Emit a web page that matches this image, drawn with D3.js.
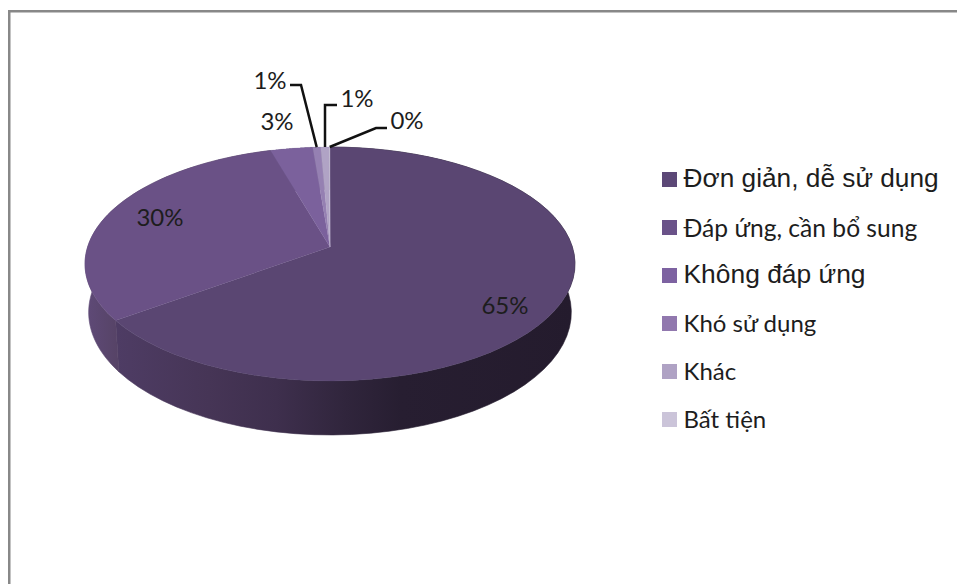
<!DOCTYPE html>
<html><head><meta charset="utf-8">
<style>html,body{margin:0;padding:0;background:#fff}svg{display:block}</style>
<script src="https://cdn.jsdelivr.net/npm/d3@7"></script></head>
<body><svg id="c" width="957" height="584"></svg>
<script>
const categories = ["Đơn giản, dễ sử dụng","Đáp ứng, cần bổ sung","Không đáp ứng","Khó sử dụng","Khác","Bất tiện"];
const values = [65.0,30.49,3.21,0.6,0.65,0.05];
const sliceColors = ["#5a4672","#6a5186","#7b619c","#9580b2","#b0a3c5","#cbc4d9"];
const legendColors = ["#5c4877","#6a5289","#7d62a1","#9178ae","#afa2c4","#cbc4d9"];

const svg = d3.select("#c");
const W = 957, H = 584;
const lato = "Lato, 'Open Sans', sans-serif", arial = "'Liberation Sans', Arial, sans-serif";

// frame
svg.append("path").attr("d", `M9.25,${H}V11.25H${W}`).attr("fill","none").attr("stroke","#888").attr("stroke-width",2.5);

// perspective disc: top rim and bottom rim are separate projections of the same circle
const cx = 330, k = 0.145;
const topRim = {y0:247, A:242.4, B:114.5}, botRim = {y0:294.6, A:238.8, B:120};
const project = (t, rim = topRim) => {
  const w = 1 + k * Math.cos(t);
  return [cx + rim.A * Math.sin(t) / w, rim.y0 - rim.B * Math.cos(t) / w];
};
const pie = d3.pie().sort(null).value(d => d)(values);
const arcPts = (a0, a1, rim) => d3.range(0, 61).map(i => project(a0 + (a1 - a0) * i / 60, rim));
const line = d3.line();

// shaded wall
const defs = svg.append("defs");
const g1 = defs.append("linearGradient").attr("id","wall0").attr("gradientUnits","userSpaceOnUse").attr("x1",117).attr("x2",575).attr("y1",0).attr("y2",0);
[[0,"#4e3c64"],[.2,"#463556"],[.35,"#3e2f4d"],[.5,"#30253c"],[.62,"#271e31"],[1,"#241b2d"]].forEach(s=>g1.append("stop").attr("offset",s[0]).attr("stop-color",s[1]));
const g2 = defs.append("linearGradient").attr("id","wall1").attr("gradientUnits","userSpaceOnUse").attr("x1",85).attr("x2",118).attr("y1",0).attr("y2",0);
[[0,"#5f4a78"],[1,"#564366"]].forEach(s=>g2.append("stop").attr("offset",s[0]).attr("stop-color",s[1]));

svg.append("g").selectAll("path").data(pie).join("path")
  .attr("d", d => line(arcPts(d.startAngle,d.endAngle,topRim).concat(arcPts(d.startAngle,d.endAngle,botRim).reverse()))+"Z")
  .attr("fill",(d,i)=> i<2 ? `url(#wall${i})` : d3.color(sliceColors[i]).darker(1))
  .attr("stroke",(d,i)=> i<2 ? `url(#wall${i})` : "none").attr("stroke-width",.6);

svg.append("g").selectAll("path").data(pie).join("path")
  .attr("d", d => line([[cx,topRim.y0]].concat(arcPts(d.startAngle,d.endAngle,topRim)))+"Z")
  .attr("fill",(d,i)=>sliceColors[i]).attr("stroke",(d,i)=>sliceColors[i]).attr("stroke-width",.3);

// data labels
const labelPos = [[505,306],[160,218],[277,122],[270,81],[357,99],[407,121]];
const leaderElbow = [null,null,null,[[290,85],[301,85]],[[337,105],[325,105]],[[387,128],[376,128]]];
const pct = v => d3.format(".0f")(v) + "%";
svg.append("g").selectAll("text").data(pie).join("text")
  .attr("x",(d,i)=>labelPos[i][0]).attr("y",(d,i)=>labelPos[i][1]).attr("dy","0.35em")
  .attr("text-anchor","middle").attr("font-family",lato).attr("font-size",24).attr("fill","#1d1d1d")
  .text(d=>pct(d.data));
svg.append("g").selectAll("path").data(pie.filter((d,i)=>leaderElbow[i])).join("path")
  .attr("d",(d)=>{const i=d.index; return line(leaderElbow[i].concat([project((d.startAngle+d.endAngle)/2)]));})
  .attr("fill","none").attr("stroke","#111").attr("stroke-width",2.5);

// legend
const legendFonts = [arial,lato,arial,lato,lato,lato];
const legendSizes = [26.25,24.6,26.4,24,24,24];
const legendShift = [-2,0,-2,0,0,0];
const legendY = d3.scalePoint().domain(categories).range([180,420]);
const lg = svg.append("g").selectAll("g").data(categories).join("g").attr("transform",d=>`translate(662,${legendY(d)})`);
lg.append("rect").attr("x",0).attr("y",-8).attr("width",15).attr("height",15).attr("fill",(d,i)=>legendColors[i]);
lg.append("text").attr("x",21.5).attr("y",(d,i)=>legendShift[i]).attr("dy","0.35em").attr("fill","#1d1d1d")
  .attr("font-family",(d,i)=>legendFonts[i])
  .attr("font-size",(d,i)=>legendSizes[i])
  .text(d=>d);
</script></body></html>
